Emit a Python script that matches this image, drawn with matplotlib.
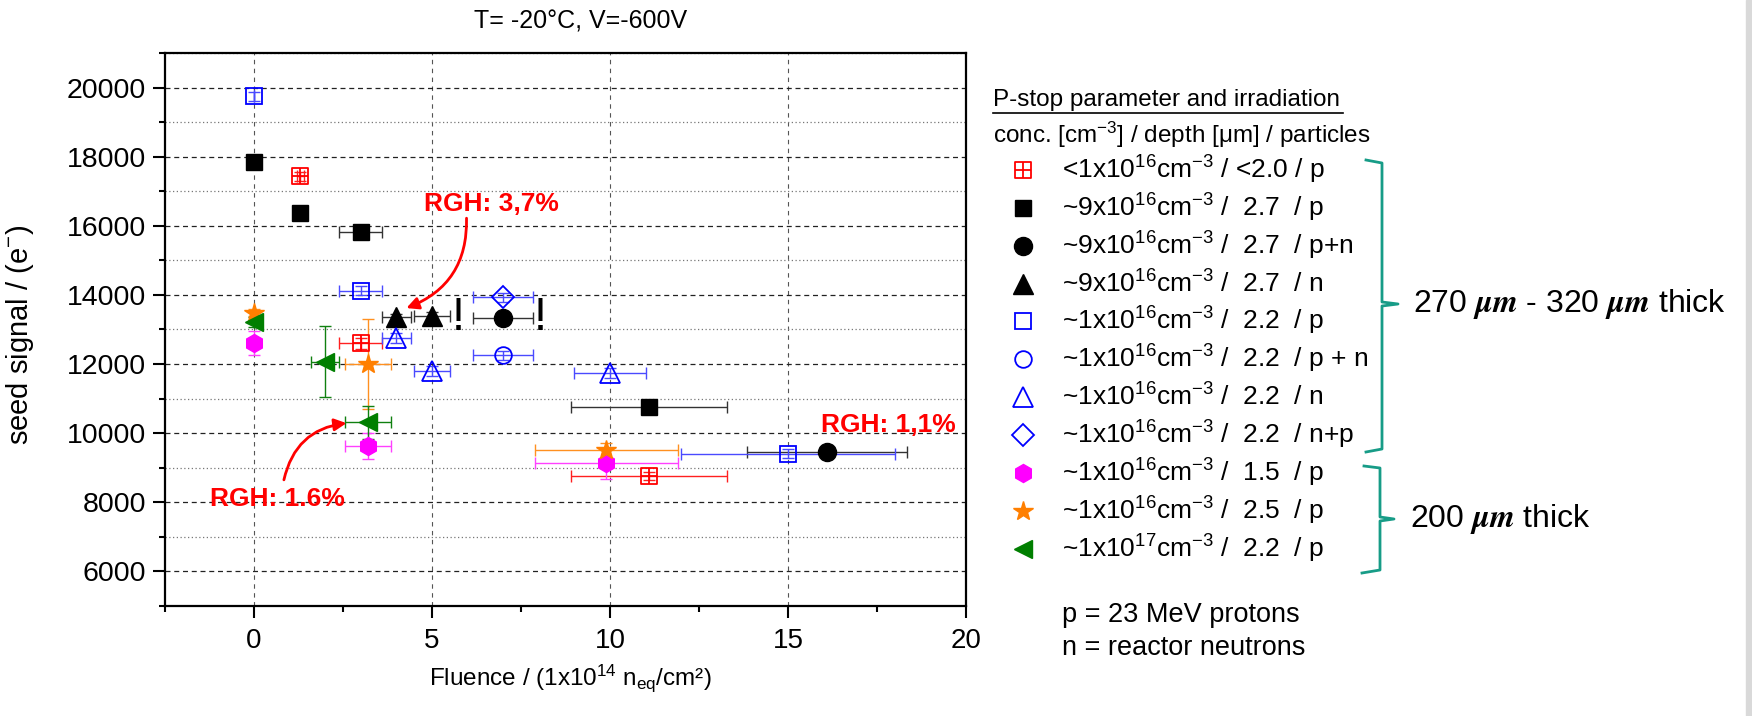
import numpy as np
import matplotlib
matplotlib.use("Agg")
import matplotlib.pyplot as plt
from matplotlib.path import Path
from matplotlib.patches import Rectangle
from matplotlib.ticker import MultipleLocator

plt.rcParams['font.family'] = ['Liberation Sans', 'DejaVu Sans']
plt.rcParams['mathtext.default'] = 'regular'

NARROW = ['Liberation Sans Narrow', 'Liberation Sans', 'DejaVu Sans']

# data (fluence in 1e14 neq/cm2, seed signal in e-)
red_x = [1.3, 3.0, 11.1]
red_y = [17430, 12600, 8760]
red_xerr = [0.1, 0.6, 2.2]
red_yerr = [120, 150, 120]

blk_sq_x = [0.0, 1.3, 3.0, 11.1]
blk_sq_y = [17850, 16380, 15820, 10770]
blk_sq_xerr = [0.0, 0.1, 0.6, 2.2]
blk_sq_yerr = [60, 80, 80, 80]

blk_ci_x = [7.0, 16.1]
blk_ci_y = [13340, 9470]
blk_ci_xerr = [0.85, 2.25]
blk_ci_yerr = [80, 80]

blk_tr_x = [4.0, 5.0]
blk_tr_y = [13370, 13400]
blk_tr_xerr = [0.4, 0.5]
blk_tr_yerr = [80, 120]

blu_sq_x = [0.0, 3.0, 15.0]
blu_sq_y = [19750, 14125, 9400]
blu_sq_xerr = [0.0, 0.6, 3.0]
blu_sq_yerr = [130, 130, 130]

blu_ci_x = [7.0]
blu_ci_y = [12260]
blu_ci_xerr = [0.85]
blu_ci_yerr = [130]

blu_tr_x = [4.0, 5.0, 10.0]
blu_tr_y = [12750, 11800, 11740]
blu_tr_xerr = [0.4, 0.5, 1.0]
blu_tr_yerr = [150, 150, 150]

blu_di_x = [7.0]
blu_di_y = [13930]
blu_di_xerr = [0.85]
blu_di_yerr = [130]

mag_x = [0.0, 3.2, 9.9]
mag_y = [12600, 9620, 9130]
mag_xerr = [0.0, 0.65, 2.0]
mag_yerr = [350, 380, 450]

ora_x = [0.0, 3.2, 9.9]
ora_y = [13480, 12000, 9500]
ora_xerr = [0.0, 0.65, 2.0]
ora_yerr = [100, 1300, 220]

grn_x = [0.0, 2.0, 3.2]
grn_y = [13210, 12070, 10320]
grn_xerr = [0.0, 0.4, 0.65]
grn_yerr = [150, 1030, 480]

labels = [
    '<1x10$^{16}$cm$^{-3}$ / <2.0 / p',
    '~9x10$^{16}$cm$^{-3}$ /  2.7  / p',
    '~9x10$^{16}$cm$^{-3}$ /  2.7  / p+n',
    '~9x10$^{16}$cm$^{-3}$ /  2.7  / n',
    '~1x10$^{16}$cm$^{-3}$ /  2.2  / p',
    '~1x10$^{16}$cm$^{-3}$ /  2.2  / p + n',
    '~1x10$^{16}$cm$^{-3}$ /  2.2  / n',
    '~1x10$^{16}$cm$^{-3}$ /  2.2  / n+p',
    '~1x10$^{16}$cm$^{-3}$ /  1.5  / p',
    '~1x10$^{16}$cm$^{-3}$ /  2.5  / p',
    '~1x10$^{17}$cm$^{-3}$ /  2.2  / p',
]

# square with a cross inside
sq_plus = Path([(-1, -1), (1, -1), (1, 1), (-1, 1), (-1, -1), (-1, 0), (1, 0), (0, -1), (0, 1)],
               [Path.MOVETO, Path.LINETO, Path.LINETO, Path.LINETO, Path.CLOSEPOLY,
                Path.MOVETO, Path.LINETO, Path.MOVETO, Path.LINETO])

RED, BLACK, BLUE = '#ff0000', '#000000', '#0000ff'
MAGENTA, ORANGE, GREEN = '#ff00ff', '#ff7f00', '#007f00'

series = [
    (red_x, red_y, red_xerr, red_yerr, dict(marker=sq_plus, ms=12, mfc='none', mec=RED, mew=1.3), '#ff2020'),
    (blk_sq_x, blk_sq_y, blk_sq_xerr, blk_sq_yerr, dict(marker='s', ms=12, mfc=BLACK, mec=BLACK), '#333333'),
    (blk_ci_x, blk_ci_y, blk_ci_xerr, blk_ci_yerr, dict(marker='o', ms=13, mfc=BLACK, mec=BLACK), '#333333'),
    (blk_tr_x, blk_tr_y, blk_tr_xerr, blk_tr_yerr, dict(marker='^', ms=14, mfc=BLACK, mec=BLACK), '#333333'),
    (blu_sq_x, blu_sq_y, blu_sq_xerr, blu_sq_yerr, dict(marker='s', ms=11, mfc='none', mec=BLUE, mew=1.3), '#4a4aff'),
    (blu_ci_x, blu_ci_y, blu_ci_xerr, blu_ci_yerr, dict(marker='o', ms=12, mfc='none', mec=BLUE, mew=1.3), '#4a4aff'),
    (blu_tr_x, blu_tr_y, blu_tr_xerr, blu_tr_yerr, dict(marker='^', ms=14, mfc='none', mec=BLUE, mew=1.3), '#4a4aff'),
    (blu_di_x, blu_di_y, blu_di_xerr, blu_di_yerr, dict(marker='D', ms=11, mfc='none', mec=BLUE, mew=1.3), '#4a4aff'),
    (mag_x, mag_y, mag_xerr, mag_yerr, dict(marker='h', ms=13, mfc=MAGENTA, mec=MAGENTA), '#ff40ff'),
    (ora_x, ora_y, ora_xerr, ora_yerr, dict(marker='*', ms=15, mfc=ORANGE, mec=ORANGE), '#ff9020'),
    (grn_x, grn_y, grn_xerr, grn_yerr, dict(marker='<', ms=13, mfc=GREEN, mec=GREEN), '#108010'),
]

W, H = 1752, 716
fig = plt.figure(figsize=(W / 100, H / 100), dpi=100)
ax = fig.add_axes([165 / W, 1 - 606 / H, (966 - 165) / W, (606 - 53) / H])

for x, y, xe, ye, style, ecol in series:
    ax.errorbar(x, y, xerr=xe, yerr=ye, fmt='none', ecolor=ecol, elinewidth=1.0,
                capsize=4, capthick=1.0, zorder=2)
    ax.plot(x, y, ls='none', zorder=3, **style)

ax.set_xlim(-2.5, 20)
ax.set_ylim(5000, 21000)
ax.xaxis.set_major_locator(MultipleLocator(5))
ax.xaxis.set_minor_locator(MultipleLocator(2.5))
ax.yaxis.set_major_locator(MultipleLocator(2000))
ax.yaxis.set_minor_locator(MultipleLocator(1000))
ax.set_yticks(np.arange(6000, 20001, 2000))
ax.tick_params(which='major', direction='out', length=8.5, width=1.5, labelsize=20.5, pad=5)
ax.tick_params(which='minor', direction='out', length=4.3, width=1.5)
ax.tick_params(top=False, right=False, which='both')
ax.tick_params(axis='x', pad=7, labelsize=20)
for lab in ax.get_xticklabels():
    lab.set_family(NARROW)
for sp in ax.spines.values():
    sp.set_linewidth(1.6)

ax.grid(axis='x', which='major', ls=(0, (4, 4)), color='#555555', lw=0.8)
ax.grid(axis='y', which='major', ls=(0, (4, 3)), color='#222222', lw=0.9)
ax.grid(axis='y', which='minor', ls=(0, (1, 2)), color='#777777', lw=0.9)
ax.set_axisbelow(True)

# exclamation marks next to the questionable points
ax.text(5.75, 13330, '!', fontsize=34, ha='center', va='center', family=NARROW)
ax.text(8.05, 13330, '!', fontsize=34, ha='center', va='center', family=NARROW)

# RGH annotations
rgh = dict(color='red', fontsize=19, fontweight='bold', ha='left', va='center')
ax.text(4.78, 16640, 'RGH: 3,7%', **rgh)
ax.text(-1.24, 8100, 'RGH: 1.6%', **rgh)
ax.text(15.93, 10240, 'RGH: 1,1%', **rgh)
arrow = dict(arrowstyle='-|>', color='red', lw=2, mutation_scale=18, shrinkA=0, shrinkB=0)
ax.annotate('', xy=(4.28, 13620), xytext=(5.97, 16220),
            arrowprops=dict(connectionstyle='arc3,rad=-0.35', **arrow))
ax.annotate('', xy=(2.60, 10290), xytext=(0.84, 8650),
            arrowprops=dict(connectionstyle='arc3,rad=-0.35', **arrow))

fig.text(581 / W, 1 - 21 / H, 'T= -20°C, V=-600V', fontsize=18, ha='center', va='center', family=NARROW)
fig.text(20 / W, 1 - 335 / H, 'seed signal / (e$^{-}$)', fontsize=21, rotation=90, ha='center', va='center')
fig.text(570 / W, 1 - 678 / H, 'Fluence / (1x10$^{14}$ n$_{eq}$/cm²)', fontsize=17.5,
         ha='center', va='center', family=NARROW)

# legend, drawn in pixel coordinates on an overlay
lax = fig.add_axes([0, 0, 1, 1])
lax.set_xlim(0, W)
lax.set_ylim(H, 0)
lax.axis('off')

lax.text(993, 100, 'P-stop parameter and irradiation', fontsize=17.5, ha='left', va='center')
lax.plot([993, 1343], [113, 113], color='black', lw=1.2)
lax.text(993, 135, 'conc. [cm$^{-3}$] / depth [μm] / particles', fontsize=17.5, ha='left', va='center')
for i, ((x, y, xe, ye, style, ecol), lab) in enumerate(zip(series, labels)):
    ry = 170 + 37.85 * i
    lax.plot([1023], [ry], ls='none', **style)
    lax.text(1062, ry, lab, fontsize=19, ha='left', va='center')

lax.text(1062, 615, 'p = 23 MeV protons', fontsize=19.5, ha='left', va='center')
lax.text(1062, 648, 'n = reactor neutrons', fontsize=19.5, ha='left', va='center')

TEAL = '#179c87'
lax.plot([1366, 1382, 1382, 1398, 1382, 1382, 1366],
         [160, 163, 302, 304, 306, 449, 452], color=TEAL, lw=2)
lax.plot([1364, 1380, 1380, 1394, 1380, 1380, 1362],
         [466, 468, 517, 519, 521, 570, 573], color=TEAL, lw=2)
lax.text(1413, 304, r'270 $\boldsymbol{\mu m}$ - 320 $\boldsymbol{\mu m}$ thick', fontsize=23,
         ha='left', va='center', math_fontfamily='stix')
lax.text(1410, 519, r'200 $\boldsymbol{\mu m}$ thick', fontsize=23, ha='left', va='center',
         math_fontfamily='stix')

fig.patches.append(Rectangle((1746 / W, 0), 6 / W, 1, transform=fig.transFigure,
                             color='#d9d9d9', zorder=0))

fig.savefig('out.png', dpi=100)
